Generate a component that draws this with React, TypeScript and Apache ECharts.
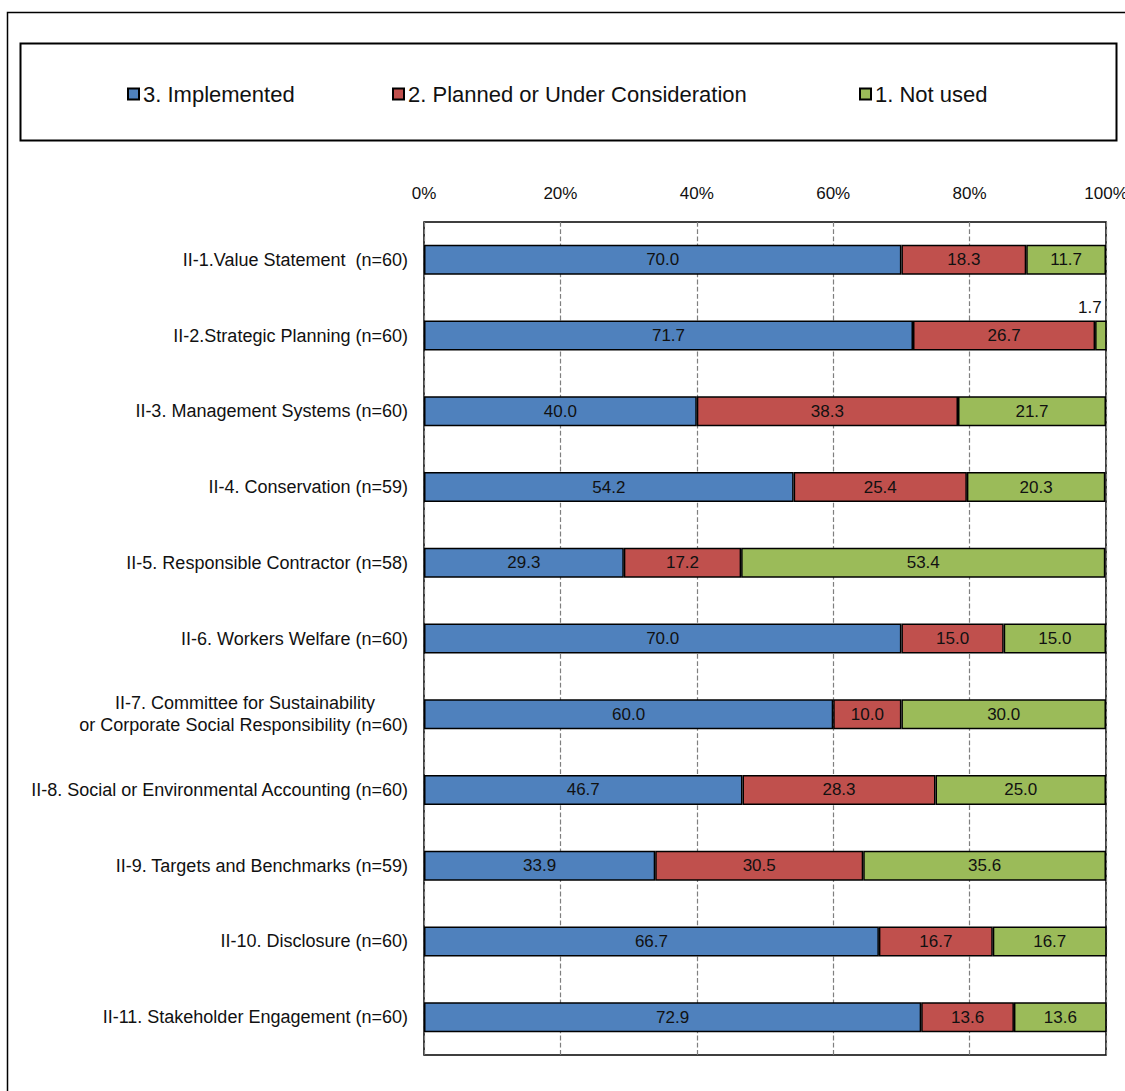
import React, { useEffect, useRef } from "react";
import * as echarts from "echarts";

const categories = [
  "II-1.Value Statement  (n=60)",
  "II-2.Strategic Planning (n=60)",
  "II-3. Management Systems (n=60)",
  "II-4. Conservation (n=59)",
  "II-5. Responsible Contractor (n=58)",
  "II-6. Workers Welfare (n=60)",
  "II-7. Committee for Sustainability\nor Corporate Social Responsibility (n=60)",
  "II-8. Social or Environmental Accounting (n=60)",
  "II-9. Targets and Benchmarks (n=59)",
  "II-10. Disclosure (n=60)",
  "II-11. Stakeholder Engagement (n=60)",
];

const seriesNames = ["3. Implemented", "2. Planned or Under Consideration", "1. Not used"];

const implemented = [70.0, 71.7, 40.0, 54.2, 29.3, 70.0, 60.0, 46.7, 33.9, 66.7, 72.9];
const planned = [18.3, 26.7, 38.3, 25.4, 17.2, 15.0, 10.0, 28.3, 30.5, 16.7, 13.6];
const notUsed = [11.7, 1.7, 21.7, 20.3, 53.4, 15.0, 30.0, 25.0, 35.6, 16.7, 13.6];

const xTicks = [0, 20, 40, 60, 80, 100];

const colors = ["#4F81BD", "#C0504D", "#9BBB59"];
const FONT = "Liberation Sans";

export default function App() {
  const ref = useRef<HTMLDivElement>(null);

  useEffect(() => {
    document.body.style.margin = "0";
    if (!ref.current) return;
    const chart = echarts.init(ref.current, null, { renderer: "svg" });

    const labelStyle = {
      show: true,
      position: "inside" as const,
      color: "#111",
      fontFamily: FONT,
      fontSize: 17,
      formatter: (p: any) => Number(p.value).toFixed(1),
    };

    const makeSeries = (name: string, values: number[], idx: number) => ({
      name,
      type: "bar",
      stack: "total",
      barWidth: 30,
      itemStyle: { color: colors[idx], borderColor: "#000", borderWidth: 1.5 },
      label: labelStyle,
      data: values.map((v) => {
        // a segment too thin for its label carries it above the bar
        if (idx === 2 && v < 5) {
          return {
            value: v,
            label: { position: "top", distance: 5, offset: [-11, 0] },
          };
        }
        return v;
      }),
    });

    const option: any = {
      animation: false,
      backgroundColor: "#fff",
      textStyle: { fontFamily: FONT },
      graphic: [
        {
          type: "rect",
          shape: { x: 7.5, y: 12.5, width: 1300, height: 1300 },
          style: { fill: "none", stroke: "#000", lineWidth: 1.5 },
          z: -10,
        },
        {
          type: "rect",
          shape: { x: 20.5, y: 43.5, width: 1096, height: 97 },
          style: { fill: "none", stroke: "#000", lineWidth: 2 },
          z: -10,
        },
      ],
      legend: seriesNames.map((n, i) => ({
        data: [n],
        left: [122, 387, 854][i],
        top: 78,
        itemWidth: 11,
        itemHeight: 11,
        itemGap: 5,
        icon: "rect",
        textStyle: { fontFamily: FONT, fontSize: 22, color: "#111", padding: [0, 0, 0, -1] },
        selectedMode: false,
      })),
      grid: {
        left: 424,
        right: 19,
        top: 222,
        bottom: 36,
        outerBoundsMode: "none",
        containLabel: false,
        show: true,
        borderColor: "#000",
        borderWidth: 1.5,
        backgroundColor: "transparent",
      },
      xAxis: {
        type: "value",
        position: "top",
        min: xTicks[0],
        max: xTicks[xTicks.length - 1],
        interval: 20,
        axisLine: { show: false },
        axisTick: { show: false },
        axisLabel: {
          formatter: "{value}%",
          fontFamily: FONT,
          fontSize: 17,
          color: "#111",
          margin: 20,
        },
        splitLine: { show: true, lineStyle: { type: "dashed", color: "#7f7f7f", width: 1.2 } },
      },
      yAxis: {
        type: "category",
        inverse: true,
        data: categories,
        axisLine: { show: false },
        axisTick: { show: false },
        axisLabel: {
          fontFamily: FONT,
          fontSize: 18,
          color: "#111",
          margin: 16,
          lineHeight: 22,
          formatter: (v: string) => {
            const parts = v.split("\n");
            if (parts.length === 2) {
              return `{l1|${parts[0]}}\n{l2|${parts[1]}}`;
            }
            return v;
          },
          rich: {
            l1: { fontFamily: FONT, fontSize: 18, color: "#111", padding: [0, 33, 0, 0], lineHeight: 22 },
            l2: { fontFamily: FONT, fontSize: 18, color: "#111", lineHeight: 22 },
          },
        },
      },
      series: [
        makeSeries(seriesNames[0], implemented, 0),
        makeSeries(seriesNames[1], planned, 1),
        makeSeries(seriesNames[2], notUsed, 2),
      ],
    };

    chart.setOption(option);
    return () => chart.dispose();
  }, []);

  return <div ref={ref} style={{ width: 1125, height: 1091 }} />;
}
